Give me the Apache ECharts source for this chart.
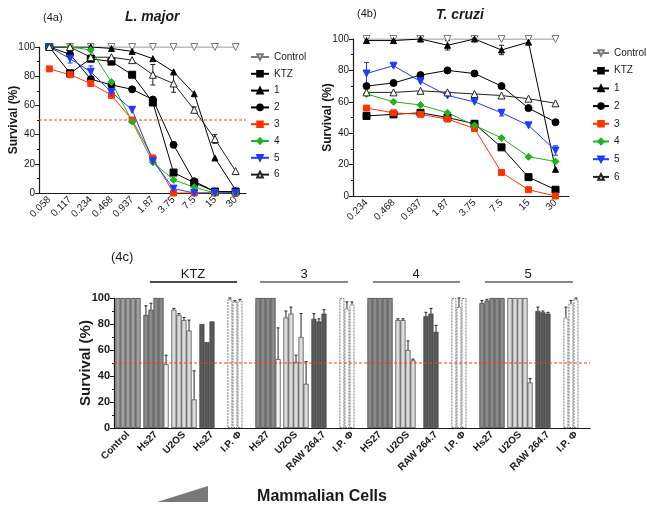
<!DOCTYPE html>
<html><head><meta charset="utf-8">
<script src="https://cdn.jsdelivr.net/npm/echarts@6/dist/echarts.min.js"></script>
<style>html,body{margin:0;padding:0;background:#fff}#c{width:647px;height:516px}</style>
</head><body><div id="c"></div>
<script>
// ---------- DATA ----------
// Panel 4a (L. major)
const doseA = ['0.058','0.117','0.234','0.468','0.937','1.87','3.75','7.5','15','30'];
const aControl = [100,100,100,100,100,100,100,100,100,100];
const aKTZ = [100,82,92,90,81,62,14,7,1,1];
const a1 = [100,100,100,99,97,92,83,68,24,2];
const a2 = [100,95,78,74,71,64,33,8,1,0];
const a3 = [85,81,75,67,50,24,0,0,0,0];
const a4 = [100,100,98,76,49,21,9,4,0,0];
const a5 = [100,92,83,69,57,22,3,0,0,0];
const a6 = [100,100,93,93,91,81,75,57,37,15];
const a6Err = [0,0,0,0,0,7,6,2,3,0];
const a5Err = [0,3,4,4,0,0,0,0,0,0];

// Panel 4b (T. cruzi)
const doseB = ['0.234','0.468','0.937','1.87','3.75','7.5','15','30'];
const bControl = [100,100,100,100,100,100,100,100];
const bKTZ = [51,52,53,50,46,31,12,4];
const b1 = [99,99,100,96,100,93,98,17];
const b2 = [70,72,77,80,78,70,56,47];
const b3 = [56,53,52,49,43,15,4,0];
const b4 = [65,60,58,53,45,37,25,22];
const b5 = [78,83,73,64,60,53,45,29];
const b6 = [66,66,67,66,65,64,62,59];
const b5Err = [7,0,0,0,0,2,0,3];
const b1Err = [0,0,0,3,0,3,0,0];

// Panel 4c (mammalian cells), five increasing concentrations
const cellLabels = ['Control','Hs27','U2OS','Hs27','I.P. Φ','Hs27','U2OS','RAW 264.7','I.P. Φ','HS27','U2OS','RAW 264.7','I.P. Φ','Hs27','U2OS','RAW 264.7','I.P. Φ'];
const conc1 = [100,87,91,80,99,100,85,84,100,100,83,86,100,96,100,90,85];
const conc2 = [100,91,87,66,97,100,88,82,92,100,83,88,93,98,100,89,96];
const conc3 = [100,100,83,82,98,100,51,88,95,100,60,74,100,100,100,88,99];
const conc4 = [100,100,75,null,null,100,70,null,null,100,52,null,null,100,100,null,null];
const conc5 = [100,49,22,null,null,53,34,null,null,100,null,null,null,100,35,null,null];
const err1 = [0,7,1,0,1,0,5,4,0,0,1,3,0,2,0,3,8];
const err2 = [0,5,1,0,1,0,5,2,5,0,1,4,7,1,0,1,2];
const err3 = [0,0,2,0,1,0,5,3,2,0,7,5,0,0,0,1,1];
const err4 = [0,0,8,0,0,0,18,0,0,0,1,0,0,0,0,0,0];
const err5 = [0,7,22,0,0,24,17,0,0,0,0,0,0,0,3,0,0];
const groupLabels = ['KTZ','3','4','5'];
const cutoff = 50;

// ---------- STYLE ----------
const NARROW = "'Liberation Sans Narrow','Arial Narrow','Liberation Sans',Arial,sans-serif";
const ARIAL = "'Liberation Sans',Arial,Helvetica,sans-serif";
const INK = '#1a1a1a';
const RED = '#ff3b1f';
const lineDefs = [
  {name:'Control', symbol:'triangle', rot:180, color:'#7a7a7a', fill:'#ffffff', size:7},
  {name:'KTZ', symbol:'rect', rot:0, color:'#000000', fill:'#000000', size:7},
  {name:'1', symbol:'triangle', rot:0, color:'#000000', fill:'#000000', size:6},
  {name:'2', symbol:'circle', rot:0, color:'#000000', fill:'#000000', size:7},
  {name:'3', symbol:'rect', rot:0, color:'#ff3300', fill:'#ff3300', size:6},
  {name:'4', symbol:'diamond', rot:0, color:'#1db41d', fill:'#1db41d', size:7},
  {name:'5', symbol:'triangle', rot:180, color:'#1e3cff', fill:'#1e3cff', size:7},
  {name:'6', symbol:'triangle', rot:0, color:'#222222', fill:'#ffffff', size:7}
];
const cellKind = ['ctrl','hs','u2','dark','ip','hs','u2','dark','ip','hs','u2','dark','ip','hs','u2','dark','ip'];
const kindFill = {ctrl:'#a0a0a0', hs:'#8a8a8a', u2:'#dcdcdc', dark:'#5a5a5a', ip:'#ffffff'};
const BAR_GAP = 0.1;

function lineSeries(def, data, idx){
  return {type:'line', name:def.name, xAxisIndex:idx, yAxisIndex:idx, data:data,
    symbol:def.symbol, symbolRotate:def.rot, symbolSize:def.size, showSymbol:true,
    lineStyle:{color:def.color, width:1}, itemStyle:{color:def.fill, borderColor:def.color, borderWidth:1},
    emphasis:{disabled:true}, z:3};
}
function lineErr(vals, errs, idx, color){
  const d = [];
  vals.forEach((v,i)=>{ if(errs[i]>0) d.push([i, v, errs[i]]); });
  return {type:'custom', xAxisIndex:idx, yAxisIndex:idx, data:d, z:2, silent:true,
    renderItem:function(p, api){
      const i=api.value(0), v=api.value(1), e=api.value(2);
      const lo=api.coord([i, v-e]), hi=api.coord([i, v+e]);
      const s={stroke:color, lineWidth:1};
      return {type:'group', children:[
        {type:'line', shape:{x1:lo[0],y1:lo[1],x2:hi[0],y2:hi[1]}, style:s},
        {type:'line', shape:{x1:hi[0]-2.5,y1:hi[1],x2:hi[0]+2.5,y2:hi[1]}, style:s},
        {type:'line', shape:{x1:lo[0]-2.5,y1:lo[1],x2:lo[0]+2.5,y2:lo[1]}, style:s}
      ]};
    }};
}
// horizontal 50% reference line spanning the whole plot width
function cutoffLine(idx){
  return {type:'custom', xAxisIndex:idx, yAxisIndex:idx, data:[[0,cutoff]], z:10, silent:true,
    renderItem:function(p, api){
      const cs=p.coordSys; const y=api.coord([0, api.value(1)])[1];
      return {type:'line', shape:{x1:cs.x, y1:y, x2:cs.x+cs.width, y2:y},
        style:{stroke:RED, lineWidth:1, lineDash:[3,2]}};
    }};
}
function barStyle(i, v){
  const kind = cellKind[i];
  if(kind==='ip') return {color:'#ffffff', borderColor:'#777', borderWidth:1, borderType:[2,1]};
  let fill = kindFill[kind];
  if(kind==='hs' && v<60) fill = '#f4f4f4';
  return {color:fill, borderColor:'#3a3a3a', borderWidth:0.7};
}
const concSets = [conc1,conc2,conc3,conc4,conc5];
const errSets = [err1,err2,err3,err4,err5];
const barSeries = concSets.map((arr,k)=>({
  type:'bar', name:'c'+(k+1), xAxisIndex:2, yAxisIndex:2,
  barGap:'0%', barCategoryGap:(BAR_GAP*100)+'%',
  data: arr.map((v,i)=> v==null ? null : {value:v, itemStyle:barStyle(i,v)}),
  emphasis:{disabled:true}, z:2
}));
const barErrSeries = errSets.map((errs,k)=>{
  const d=[];
  errs.forEach((e,i)=>{ const v=concSets[k][i]; if(e>0 && v!=null) d.push([i,v,e]); });
  return {type:'custom', xAxisIndex:2, yAxisIndex:2, data:d, z:4, silent:true,
    renderItem:function(p, api){
      const i=api.value(0), v=api.value(1), e=api.value(2);
      const base=api.coord([i,v]), top=api.coord([i,v+e]);
      const bw=api.size([1,0])[0];
      const w=bw*(1-BAR_GAP)/5;
      const x=base[0]-bw*(1-BAR_GAP)/2+(k+0.5)*w;
      const s={stroke:'#222', lineWidth:1};
      return {type:'group', children:[
        {type:'line', shape:{x1:x,y1:base[1],x2:x,y2:top[1]}, style:s},
        {type:'line', shape:{x1:x-1.5,y1:top[1],x2:x+1.5,y2:top[1]}, style:s}
      ]};
    }};
});

const aSets=[aControl,aKTZ,a1,a2,a3,a4,a5,a6];
const bSets=[bControl,bKTZ,b1,b2,b3,b4,b5,b6];
const series=[];
lineDefs.forEach((d,k)=>series.push(lineSeries(d,aSets[k],0)));
lineDefs.forEach((d,k)=>series.push(lineSeries(d,bSets[k],1)));
series.push(lineErr(a6,a6Err,0,'#222'));
series.push(lineErr(a5,a5Err,0,'#1e3cff'));
series.push(lineErr(b5,b5Err,1,'#1e3cff'));
series.push(lineErr(b1,b1Err,1,'#222'));
series.push(cutoffLine(0));
barSeries.forEach(s=>series.push(s));
barErrSeries.forEach(s=>series.push(s));
series.push(cutoffLine(2));

function yAx(grid, fontFam, bold, nameSize, gap){
  return {type:'value', gridIndex:grid, min:0, max:100, interval:20,
    name:'Survival (%)', nameLocation:'middle', nameGap:gap, nameMoveOverlap:false,
    nameTextStyle:{fontWeight:'bold', fontSize:nameSize, fontFamily:ARIAL, color:INK},
    axisLine:{show:true, lineStyle:{color:INK, width:1.2}},
    axisTick:{show:true, length:4, lineStyle:{color:INK}},
    minorTick:{show:true, splitNumber:2, length:2, lineStyle:{color:INK}},
    splitLine:{show:false},
    axisLabel:{fontSize:bold?11:10, fontWeight:bold?'bold':'normal', fontFamily:fontFam, color:INK, margin:4}};
}
function xAx(grid, data, fontFam, bold){
  return {type:'category', gridIndex:grid, data:data,
    axisLine:{lineStyle:{color:INK, width:1.2}},
    axisTick:{alignWithLabel:true, length:4, lineStyle:{color:INK}},
    axisLabel:{rotate:45, interval:0, fontSize:10, fontWeight:bold?'bold':'normal', fontFamily:fontFam, color:INK, margin:5}};
}
function legend(left, top, gap, w){
  return {orient:'vertical', left:left, top:top, itemWidth:w, itemHeight:7, itemGap:gap,
    data:lineDefs.map(d=>d.name), selectedMode:false,
    textStyle:{fontSize:10, fontFamily:NARROW, color:INK}};
}

const option = {
  animation:false,
  backgroundColor:'#ffffff',
  grid:[
    {left:39, top:47, width:207, height:146},
    {left:353, top:39, width:216, height:157},
    {left:114, top:298, width:476, height:130}
  ],
  xAxis:[xAx(0,doseA,NARROW,false), xAx(1,doseB,NARROW,false), xAx(2,cellLabels,ARIAL,true)],
  yAxis:[yAx(0,NARROW,false,12,19), yAx(1,NARROW,false,12,19), yAx(2,ARIAL,true,15,21)],
  legend:[legend(245,47,6.8,18), legend(587,43,7.7,16)],
  series:series,
  graphic:[
    {type:'text', left:43, top:12, style:{text:'(4a)', fontSize:11, fontFamily:NARROW, fill:INK}},
    {type:'text', left:125, top:10, style:{text:'L. major', fontSize:14, fontWeight:'bold', fontStyle:'italic', fontFamily:NARROW, fill:INK}},
    {type:'text', left:357, top:8, style:{text:'(4b)', fontSize:11, fontFamily:NARROW, fill:INK}},
    {type:'text', left:436, top:8, style:{text:'T. cruzi', fontSize:14, fontWeight:'bold', fontStyle:'italic', fontFamily:NARROW, fill:INK}},
    {type:'text', left:111, top:251, style:{text:'(4c)', fontSize:13, fontFamily:ARIAL, fill:INK}},
    {type:'line', shape:{x1:150,y1:282,x2:237,y2:282}, style:{stroke:'#111', lineWidth:1.5}},
    {type:'line', shape:{x1:260,y1:282,x2:348,y2:282}, style:{stroke:'#888', lineWidth:2}},
    {type:'line', shape:{x1:373,y1:282,x2:460,y2:282}, style:{stroke:'#888', lineWidth:2}},
    {type:'line', shape:{x1:485,y1:282,x2:573,y2:282}, style:{stroke:'#888', lineWidth:2}},
    {type:'text', x:193, y:274, style:{text:groupLabels[0], fontSize:13, fontFamily:ARIAL, fill:INK, align:'center', verticalAlign:'middle'}},
    {type:'text', x:304, y:274, style:{text:groupLabels[1], fontSize:13, fontFamily:ARIAL, fill:INK, align:'center', verticalAlign:'middle'}},
    {type:'text', x:416, y:274, style:{text:groupLabels[2], fontSize:13, fontFamily:ARIAL, fill:INK, align:'center', verticalAlign:'middle'}},
    {type:'text', x:528, y:274, style:{text:groupLabels[3], fontSize:13, fontFamily:ARIAL, fill:INK, align:'center', verticalAlign:'middle'}},
    {type:'polygon', shape:{points:[[157,502],[208,486],[208,502]]}, style:{fill:'#787878'}},
    {type:'text', x:322, y:497, style:{text:'Mammalian Cells', fontSize:16, fontWeight:'bold', fontFamily:ARIAL, fill:INK, align:'center', verticalAlign:'middle'}}
  ]
};
const chart = echarts.init(document.getElementById('c'), null, {renderer:'canvas'});
chart.setOption(option);
</script>
</body></html>
